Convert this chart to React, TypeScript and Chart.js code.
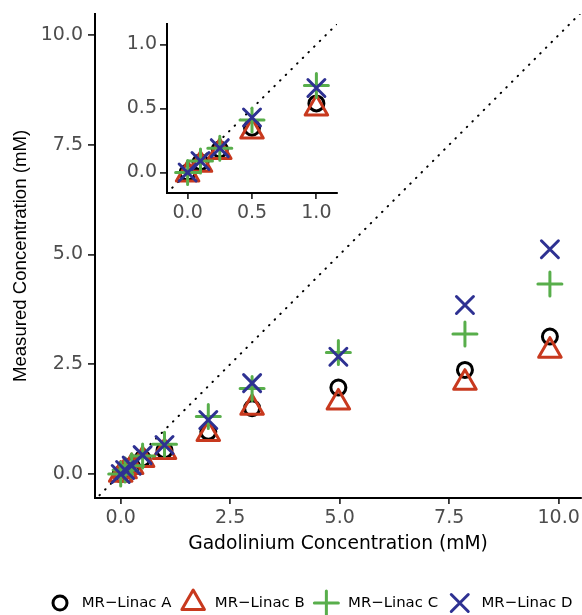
import React, { useEffect, useRef } from "react";
import { Chart, registerables } from "chart.js";

Chart.register(...registerables);

// ---- data ----
const concentrations = [0, 0.1, 0.25, 0.5, 1, 2, 3, 4.97, 7.86, 9.8];
const linacA = [0.0, 0.08, 0.18, 0.35, 0.54, 0.96, 1.5, 1.97, 2.37, 3.13];
const linacB = [-0.015, 0.06, 0.16, 0.32, 0.5, 0.91, 1.51, 1.63, 2.08, 2.81];
const linacC = [0.0, 0.09, 0.19, 0.41, 0.68, 1.31, 1.95, 2.77, 3.19, 4.33];
const linacD = [0.0, 0.09, 0.19, 0.43, 0.66, 1.23, 2.07, 2.67, 3.85, 5.12];
const seriesNames = ["MR\u2212Linac A", "MR\u2212Linac B", "MR\u2212Linac C", "MR\u2212Linac D"];
const mainTicks = [0, 2.5, 5, 7.5, 10];
const insetTicks = [0, 0.5, 1];
const identityLine = [-1, 12];

const xTitle = "Gadolinium Concentration (mM)";
const yTitle = "Measured Concentration (mM)";

// ---- styles ----
const seriesValues = [linacA, linacB, linacC, linacD];
const seriesColors = ["#000000", "#C8391E", "#58AE4B", "#2E3192"];
const seriesShapes = ["circle", "triangle", "cross", "crossRot"];
const markerRadius = [7.5, 13, 12, 12];
const markerWidth = 3;
const TICK_COLOR = "#4D4D4D";
const HFONT = "DejaVu Sans";

function drawMarker(ctx: CanvasRenderingContext2D, shape: string, x: number, y: number, r: number, color: string) {
  ctx.save();
  ctx.strokeStyle = color;
  ctx.lineWidth = markerWidth;
  ctx.lineCap = "round";
  ctx.lineJoin = "round";
  ctx.beginPath();
  if (shape === "circle") {
    ctx.arc(x, y, r, 0, Math.PI * 2);
  } else if (shape === "triangle") {
    let a = 0;
    ctx.moveTo(x + Math.sin(a) * r, y - Math.cos(a) * r);
    a += (2 * Math.PI) / 3;
    ctx.lineTo(x + Math.sin(a) * r, y - Math.cos(a) * r);
    a += (2 * Math.PI) / 3;
    ctx.lineTo(x + Math.sin(a) * r, y - Math.cos(a) * r);
    ctx.closePath();
  } else {
    const a = shape === "crossRot" ? Math.PI / 4 : 0;
    const dx = Math.cos(a) * r;
    const dy = Math.sin(a) * r;
    ctx.moveTo(x - dx, y - dy);
    ctx.lineTo(x + dx, y + dy);
    ctx.moveTo(x + dy, y - dx);
    ctx.lineTo(x - dy, y + dx);
  }
  ctx.stroke();
  ctx.restore();
}

const roundCaps = {
  id: "roundCaps",
  beforeDatasetsDraw(chart: any) {
    chart.ctx.save();
    chart.ctx.lineCap = "round";
    chart.ctx.lineJoin = "round";
  },
  afterDatasetsDraw(chart: any) {
    chart.ctx.restore();
  },
};

const bottomLegend = {
  id: "bottomLegend",
  afterDraw(chart: any) {
    const ctx: CanvasRenderingContext2D = chart.ctx;
    ctx.save();
    ctx.font = `14.9px "${HFONT}"`;
    ctx.textBaseline = "middle";
    ctx.textAlign = "left";
    const y = 603;
    let x = 60;
    seriesNames.forEach((name, i) => {
      const r = i === 0 ? 7 : markerRadius[i];
      drawMarker(ctx, seriesShapes[i], x, y, r, seriesColors[i]);
      const tx = x + 21.7;
      ctx.fillStyle = "#000";
      ctx.fillText(name, tx, y);
      x = tx + ctx.measureText(name).width + 21.7;
    });
    ctx.restore();
  },
};

function makeDatasets() {
  const line = {
    label: "identity",
    data: identityLine.map((v) => ({ x: v, y: v })),
    showLine: true,
    pointRadius: 0,
    borderColor: "#000",
    borderWidth: 2,
    borderDash: [0.5, 7.5],
    borderCapStyle: "round",
    order: 5,
  };
  const series = seriesValues.map((vals, i) => ({
    label: seriesNames[i],
    data: concentrations.map((c, j) => ({ x: c, y: vals[j] })),
    showLine: false,
    pointStyle: seriesShapes[i],
    pointRadius: markerRadius[i],
    pointHoverRadius: markerRadius[i],
    pointBorderColor: seriesColors[i],
    pointBackgroundColor: "rgba(0,0,0,0)",
    pointBorderWidth: markerWidth,
    pointHoverBorderWidth: markerWidth,
    order: 4 - i,
  }));
  return [line, ...series];
}

function axis(opts: {
  min: number;
  max: number;
  ticks: number[];
  size: number;
  vertical: boolean;
  padding: number;
  tickLength: number;
  title?: string;
  titleFont?: any;
  titlePadding?: any;
}) {
  return {
    type: "linear",
    min: opts.min,
    max: opts.max,
    afterBuildTicks: (s: any) => {
      s.ticks = opts.ticks.map((v) => ({ value: v }));
    },
    afterFit: (s: any) => {
      if (opts.vertical) s.width = opts.size;
      else s.height = opts.size;
      s.paddingLeft = 0;
      s.paddingRight = 0;
      s.paddingTop = 0;
      s.paddingBottom = 0;
    },
    grid: {
      display: true,
      drawOnChartArea: false,
      drawTicks: true,
      tickLength: opts.tickLength,
      tickColor: "#333333",
      tickWidth: 1.8,
      lineWidth: 1.8,
    },
    border: { display: true, color: "#000", width: 2 },
    ticks: {
      color: TICK_COLOR,
      font: { family: HFONT, size: 19 },
      padding: opts.padding,
      autoSkip: false,
      maxRotation: 0,
      callback: (v: any) => Number(v).toFixed(1),
    },
    title: opts.title
      ? {
          display: true,
          text: opts.title,
          color: "#000",
          font: opts.titleFont,
          padding: opts.titlePadding,
        }
      : { display: false },
  };
}

export default function App() {
  const mainRef = useRef<HTMLCanvasElement>(null);
  const insetRef = useRef<HTMLCanvasElement>(null);

  useEffect(() => {
    document.body.style.margin = "0";
    const main = new Chart(mainRef.current as HTMLCanvasElement, {
      type: "scatter",
      data: { datasets: makeDatasets() as any },
      options: {
        animation: false,
        responsive: false,
        maintainAspectRatio: false,
        events: [],
        layout: { autoPadding: false, padding: { left: 0, right: 1, top: 14, bottom: 59.7 } },
        plugins: { legend: { display: false }, tooltip: { enabled: false } },
        scales: {
          x: axis({
            min: -0.587,
            max: 10.51,
            ticks: mainTicks,
            size: 57.3,
            vertical: false,
            padding: 3,
            tickLength: 6,
            title: xTitle,
            titleFont: { family: HFONT, size: 18.7 },
            titlePadding: { top: 0, bottom: 0 },
          }) as any,
          y: axis({
            min: -0.547,
            max: 10.48,
            ticks: mainTicks,
            size: 95,
            vertical: true,
            padding: 5,
            tickLength: 7,
            title: yTitle,
            titleFont: { family: "Liberation Sans", size: 18.6 },
            titlePadding: { top: 9.3, bottom: 0 },
          }) as any,
        },
      },
      plugins: [roundCaps, bottomLegend],
    });

    const inset = new Chart(insetRef.current as HTMLCanvasElement, {
      type: "scatter",
      data: { datasets: makeDatasets() as any },
      options: {
        animation: false,
        responsive: false,
        maintainAspectRatio: false,
        events: [],
        layout: { autoPadding: false, padding: { left: 0, right: 8, top: 24, bottom: 0 } },
        plugins: { legend: { display: false }, tooltip: { enabled: false } },
        scales: {
          x: axis({
            min: -0.16,
            max: 1.16,
            ticks: insetTicks,
            size: 32,
            vertical: false,
            padding: 2.4,
            tickLength: 6,
          }) as any,
          y: axis({
            min: -0.16,
            max: 1.16,
            ticks: insetTicks,
            size: 67,
            vertical: true,
            padding: 3,
            tickLength: 7,
          }) as any,
        },
      },
      plugins: [roundCaps],
    });

    return () => {
      main.destroy();
      inset.destroy();
    };
  }, []);

  return (
    <div style={{ position: "fixed", left: 0, top: 0, width: 582, height: 615, background: "#fff" }}>
      <canvas
        ref={mainRef}
        width={582}
        height={615}
        style={{ position: "absolute", left: 0, top: 0, width: 582, height: 615 }}
      />
      <canvas
        ref={insetRef}
        width={245}
        height={225}
        style={{ position: "absolute", left: 100, top: 0, width: 245, height: 225 }}
      />
    </div>
  );
}
